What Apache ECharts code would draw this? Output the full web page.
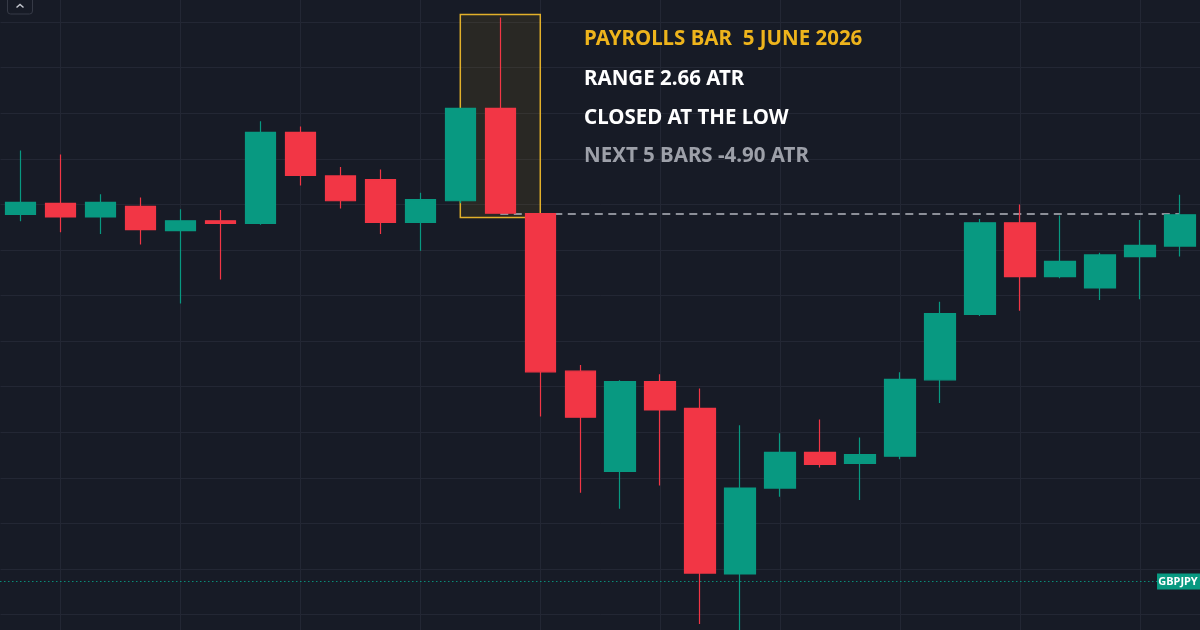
<!DOCTYPE html>
<html><head><meta charset="utf-8">
<script src="https://cdn.jsdelivr.net/npm/echarts@6/dist/echarts.min.js"></script>
<style>html,body{margin:0;padding:0;background:#171b26;overflow:hidden}#c{width:1200px;height:630px;}</style>
</head><body><div id="c"></div>
<script>
// 15-minute bars, 5 June 2026
const categories = ['09:30','09:45','10:00','10:15','10:30','10:45','11:00','11:15','11:30','11:45',
  '12:00','12:15','12:30','12:45','13:00','13:15','13:30','13:45','14:00','14:15',
  '14:30','14:45','15:00','15:15','15:30','15:45','16:00','16:15','16:30','16:45'];
const opens  = [209.956,210.004,209.945,209.991,209.885,209.928,209.917,210.316,210.125,210.109,
  209.921,210.016,210.421,209.960,209.268,208.828,209.222,209.105,208.378,208.755,
  208.912,208.863,208.895,209.230,209.517,209.919,209.683,209.633,209.771,209.817];
const closes = [210.009,209.945,210.009,209.889,209.928,209.917,210.316,210.127,210.016,209.921,
  210.021,210.421,209.961,209.265,209.066,209.222,209.098,208.382,208.755,208.912,
  208.859,208.902,209.232,209.521,209.919,209.683,209.750,209.778,209.820,209.954];
const lows   = [209.926,209.878,209.870,209.824,209.565,209.670,209.911,210.083,209.982,209.870,
  209.797,210.005,209.961,209.069,208.734,208.664,208.766,208.158,208.090,208.717,
  208.845,208.703,208.881,209.128,209.510,209.533,209.676,209.580,209.584,209.771];
const highs  = [210.236,210.219,210.044,210.030,209.979,209.975,210.365,210.342,210.164,210.153,
  210.051,210.423,210.820,209.962,209.295,209.228,209.254,209.192,209.031,208.995,
  209.056,208.977,209.263,209.573,209.936,210.000,209.951,209.788,209.931,210.042];
const priceTicks = [208.2, 208.4, 208.6, 208.8, 209.0, 209.2, 209.4, 209.6, 209.8, 210.0, 210.2, 210.4, 210.6, 210.8];
const priceMin = 208.132, priceMax = 210.897;
const payrollIndex = 12;
const payrollBox = { fromIndex: 11, toIndex: 13, top: 210.833, bottom: 209.942 };
const lastPriceLevel = 208.345;
const symbolName = 'GBPJPY';
const noteLines = ['PAYROLLS BAR  5 JUNE 2026', 'RANGE 2.66 ATR', 'CLOSED AT THE LOW', 'NEXT 5 BARS -4.90 ATR'];

const UP = '#089981', DOWN = '#f23645', GRID = '#232734';
const candleData = categories.map((c, i) => [opens[i], closes[i], lows[i], highs[i]]);
const payrollClose = closes[payrollIndex];

const chart = echarts.init(document.getElementById('c'), null, { renderer: 'canvas' });
const noteColors = ['#eeb41c', '#ffffff', '#ffffff', '#9da0a9'];
const noteY = [39.5, 79, 118, 156.5];
const FONT = '"Noto Sans", sans-serif';

chart.setOption({
  backgroundColor: '#171b26',
  animation: false,
  grid: { left: 0.5, right: 0, top: 0, bottom: 0, containLabel: false },
  xAxis: {
    type: 'category', data: categories, boundaryGap: true,
    axisLine: { show: false }, axisTick: { show: false }, axisLabel: { show: false },
    splitLine: { show: true, alignWithLabel: true, interval: (i) => i % 3 === 1,
      lineStyle: { color: GRID, width: 1 } }
  },
  yAxis: {
    type: 'value', min: priceMin, max: priceMax, scale: true,
    axisLine: { show: false }, axisTick: { show: false }, axisLabel: { show: false },
    splitLine: { show: false }
  },
  series: [
    {
      type: 'line', data: [], z: 0, silent: true,
      markLine: {
        z: 0, silent: true, symbol: ['none', 'none'], label: { show: false },
        lineStyle: { color: GRID, width: 1, type: 'solid' },
        data: priceTicks.map(v => ({ yAxis: v }))
      }
    },
    {
      type: 'line', data: [], z: 1, silent: true,
      markArea: {
        z: 1, silent: true,
        itemStyle: { color: 'rgba(238,181,27,0.09)', borderColor: '#e2b02a', borderWidth: 1.5 },
        data: [[{ xAxis: payrollBox.fromIndex, yAxis: payrollBox.top }, { xAxis: payrollBox.toIndex, yAxis: payrollBox.bottom }]]
      },
      markLine: {
        z: 2, silent: true, symbol: ['none', 'none'], label: { show: false },
        data: [
          [{ coord: [payrollIndex, payrollClose], lineStyle: { color: '#b4b7bf', width: 1.5, type: [8, 5.5] } },
           { coord: [categories.length - 1, payrollClose] }],
          [{ yAxis: lastPriceLevel, x: 0, lineStyle: { color: UP, width: 1, type: [1.5, 2.5], opacity: 0.9 } },
           { yAxis: lastPriceLevel, x: 1160 }]
        ]
      }
    },
    {
      type: 'candlestick', data: candleData, z: 3, barWidth: 31,
      itemStyle: { color: UP, color0: DOWN, borderColor: UP, borderColor0: DOWN, borderWidth: 1.2 },
      markPoint: {
        z: 6, silent: true,
        data: [{
          coord: [categories.length - 1, lastPriceLevel],
          symbol: 'rect', symbolSize: [44, 16], symbolOffset: [-1, 0],
          itemStyle: { color: UP },
          label: { show: true, formatter: symbolName, color: '#ffffff', fontSize: 11, fontWeight: 'bold', fontFamily: FONT, position: 'inside', offset: [-1, 0.5] }
        }]
      }
    }
  ],
  graphic: [
    { type: 'rect', z: 10, shape: { x: 7.5, y: -6, width: 25, height: 20, r: 3 },
      style: { fill: 'transparent', stroke: '#363a46', lineWidth: 1 }, silent: true },
    { type: 'polyline', z: 10, shape: { points: [[16.5, 7.5], [20, 4.5], [23.5, 7.5]] },
      style: { stroke: '#c3c6ce', lineWidth: 1.5, fill: null }, silent: true },
    ...noteLines.map((t, i) => ({
      type: 'text', z: 10, x: 584, y: noteY[i], silent: true,
      style: { text: t, fill: noteColors[i], font: 'bold 20.5px ' + FONT, textVerticalAlign: 'middle', verticalAlign: 'middle' }
    }))
  ]
});
</script>
</body></html>
